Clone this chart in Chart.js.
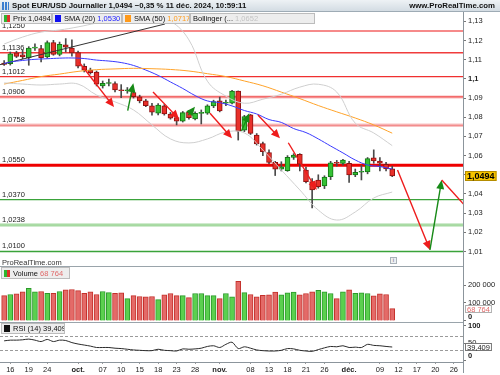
<!DOCTYPE html>
<html lang="fr">
<head>
<meta charset="UTF-8"/>
<meta name="viewport" content="width=device-width, initial-scale=1.0"/>
<title>Spot EUR/USD Journalier</title>
<script src="https://cdn.jsdelivr.net/npm/chart.js"></script>
<style>
  body { margin: 0; background: #fff; }
  #wrap { position: relative; width: 500px; height: 375px; overflow: hidden; background: #fff;
          font-family: "Liberation Sans", Arial, sans-serif; font-size: 7.5px; color: #111; }
  #wrap canvas { position: absolute; left: 0; }
  .head { position: absolute; left: 0; top: 0; width: 500px; height: 12px; box-sizing: border-box;
          background: linear-gradient(#eef2f5, #d3dce3); border-bottom: 1px solid #9eabb5; font-size: 7.8px; }
  .head b { position: absolute; top: 0; line-height: 12px; white-space: nowrap; }
  .ico { position: absolute; left: 2px; top: 2px; width: 7px; height: 8px;
         background: repeating-linear-gradient(90deg, #3b7fd0 0 2px, transparent 2px 3px); }
  .leg { position: absolute; height: 11px; line-height: 10px; box-sizing: border-box; padding-left: 2px;
         background: rgba(236,236,236,0.93); border: 1px solid #bcbcbc; white-space: nowrap; overflow: hidden; }
  .sq { display: inline-block; width: 6px; height: 7px; margin-right: 3px; vertical-align: -1px; }
  .sep { position: absolute; left: 0; width: 463px; height: 1px; background: #9aa4ab; }
  .vline { position: absolute; left: 463px; top: 362px; width: 1px; height: 11px; background: #8c959c; }
  .info { position: absolute; left: 390px; top: 257px; width: 7px; height: 7px; box-sizing: border-box;
          border: 1px solid #a9b2b9; background: #eef0f2; font-size: 6px; line-height: 5px; text-align: center; color: #667; }
</style>
</head>
<body>
<div id="wrap">
  <canvas id="priceChart" width="500" height="254" style="top:12px"></canvas>
  <canvas id="volChart" width="500" height="56" style="top:266px"></canvas>
  <canvas id="rsiChart" width="500" height="53" style="top:322px"></canvas>

  <div class="head">
    <i class="ico"></i>
    <b style="left:12px">Spot EUR/USD Journalier <span id="lastPx"></span> &minus;0,35 % 11 déc. 2024, 10:59:11</b>
    <b style="right:5px">www.ProRealTime.com</b>
  </div>

  <div class="leg" style="left:1px;top:13px;width:51px"><i class="sq" style="background:linear-gradient(90deg,#2fb52f 50%,#e0302a 50%)"></i>Prix <span id="legPx"></span></div>
  <div class="leg" style="left:52px;top:13px;width:70px"><i class="sq" style="background:#1010f0"></i>SMA (20) <span id="legS20" style="color:#2323ff"></span></div>
  <div class="leg" style="left:122px;top:13px;width:68px"><i class="sq" style="background:#ff9a1a"></i>SMA (50) <span id="legS50" style="color:#ff9a1a"></span></div>
  <div class="leg" style="left:190px;top:13px;width:125px">Bollinger (... <span id="legBB" style="color:#c4c4c4"></span></div>

  <div style="position:absolute;left:2px;top:258px;color:#333">ProRealTime.com</div>
  <div class="info">i</div>

  <div class="sep" style="top:266px"></div>
  <div class="leg" style="left:1px;top:267px;width:69px;height:12px;line-height:11px"><i class="sq" style="background:linear-gradient(90deg,#2fb52f 50%,#e0302a 50%)"></i>Volume <span id="legVol" style="color:#e06a6a"></span></div>

  <div class="sep" style="top:322px"></div>
  <div class="leg" style="left:1px;top:323px;width:64px;height:11px"><i class="sq" style="background:#111"></i>RSI (14) <span id="legRsi"></span></div>
  <div class="vline"></div>
</div>

<script>
  // Daily candles, index 0 = Mon 16 Sept 2024, trading days only (first candle is Fri 13 Sept)
  const firstDay = -1;
  const opens = [
    1.1083, 1.1079, 1.1136, 1.1126, 1.1109, 1.1160, 1.1158, 1.1114, 1.1189, 1.1128,
    1.1178, 1.1161, 1.1137, 1.1066, 1.1046, 1.1036, 1.0963, 1.0976, 1.0976, 1.0942,
    1.0938, 1.0929, 1.0907, 1.0885, 1.0860, 1.0821, 1.0859, 1.0817, 1.0798, 1.0780,
    1.0827, 1.0791, 1.0820, 1.0821, 1.0859, 1.0885, 1.0873, 1.0873, 1.0937, 1.0733,
    1.0812, 1.0707, 1.0663, 1.0616, 1.0565, 1.0529, 1.0521, 1.0591, 1.0607, 1.0525,
    1.0464, 1.0473, 1.0442, 1.0490, 1.0562, 1.0559, 1.0560, 1.0499, 1.0513, 1.0515,
    1.0589, 1.0572, 1.0555, 1.0531
  ];
  const highs = [
    1.1095, 1.1140, 1.1144, 1.1149, 1.1168, 1.1183, 1.1175, 1.1198, 1.1201, 1.1192,
    1.1210, 1.1204, 1.1145, 1.1078, 1.1056, 1.1041, 1.0989, 1.0999, 1.0984, 1.0970,
    1.0955, 1.0940, 1.0915, 1.0893, 1.0872, 1.0871, 1.0866, 1.0825, 1.0805, 1.0830,
    1.0835, 1.0828, 1.0838, 1.0865, 1.0889, 1.0905, 1.0890, 1.0940, 1.0937, 1.0810,
    1.0815, 1.0715, 1.0670, 1.0630, 1.0570, 1.0568, 1.0600, 1.0610, 1.0610, 1.0540,
    1.0480, 1.0500, 1.0495, 1.0570, 1.0575, 1.0580, 1.0570, 1.0530, 1.0550, 1.0590,
    1.0630, 1.0590, 1.0565, 1.0545
  ];
  const lows = [
    1.1070, 1.1072, 1.1111, 1.1105, 1.1071, 1.1149, 1.1088, 1.1108, 1.1123, 1.1120,
    1.1140, 1.1118, 1.1057, 1.1036, 1.1025, 1.0963, 1.0952, 1.0963, 1.0932, 1.0902,
    1.0925, 1.0900, 1.0875, 1.0855, 1.0811, 1.0812, 1.0811, 1.0790, 1.0760, 1.0775,
    1.0790, 1.0786, 1.0765, 1.0815, 1.0850, 1.0828, 1.0860, 1.0870, 1.0681, 1.0725,
    1.0710, 1.0655, 1.0600, 1.0558, 1.0496, 1.0520, 1.0518, 1.0580, 1.0520, 1.0458,
    1.0327, 1.0430, 1.0428, 1.0475, 1.0545, 1.0550, 1.0460, 1.0490, 1.0473, 1.0505,
    1.0560, 1.0520, 1.0520, 1.0490
  ];
  const closes = [
    1.1076, 1.1130, 1.1117, 1.1114, 1.1161, 1.1165, 1.1111, 1.1189, 1.1128, 1.1180,
    1.1165, 1.1135, 1.1066, 1.1045, 1.1032, 1.0973, 1.0977, 1.0978, 1.0942, 1.0938,
    1.0940, 1.0907, 1.0885, 1.0860, 1.0826, 1.0864, 1.0817, 1.0795, 1.0780, 1.0824,
    1.0798, 1.0821, 1.0822, 1.0859, 1.0881, 1.0833, 1.0877, 1.0937, 1.0728, 1.0803,
    1.0716, 1.0661, 1.0620, 1.0564, 1.0529, 1.0542, 1.0591, 1.0603, 1.0555, 1.0464,
    1.0421, 1.0438, 1.0488, 1.0562, 1.0560, 1.0576, 1.0499, 1.0513, 1.0516, 1.0584,
    1.0572, 1.0560, 1.0531, 1.0494
  ];
  const volumes = [
    141000, 147000, 151000, 162000, 181000, 162000, 164000, 154000, 154000, 164000,
    173000, 175000, 169000, 154000, 162000, 147000, 164000, 158000, 154000, 156000,
    124000, 141000, 136000, 134000, 136000, 119000, 145000, 153000, 141000, 141000,
    130000, 153000, 153000, 141000, 141000, 124000, 153000, 134000, 220000, 158000,
    147000, 134000, 143000, 145000, 160000, 145000, 156000, 160000, 145000, 153000,
    162000, 171000, 162000, 153000, 124000, 162000, 173000, 154000, 156000, 153000,
    140000, 151000, 147000, 68764
  ];
  const rsi = [
    57, 59, 59, 60, 62, 59, 55, 61, 55, 59,
    58, 52, 48, 45, 42, 38, 38, 38, 36, 35,
    33, 31, 30, 29, 29, 33, 30, 29, 28, 34,
    33, 34, 36, 41, 43, 38, 47, 53, 35, 40,
    36, 31, 29, 28, 28, 30, 35, 34, 30, 28,
    27, 32, 37, 41, 40, 43, 38, 39, 38, 47,
    44, 43, 41, 39.409
  ];

  // Indicators
  const sma20Days = [-1, 0, 2, 4, 6, 8, 10, 12, 14, 16, 18, 20, 22, 24, 26, 28, 30, 32, 34, 36, 38, 40, 42, 44, 46, 48, 50, 52, 54, 56, 58, 60, 62];
  const sma20 = [1.1080, 1.1088, 1.1096, 1.1102, 1.1105, 1.1108, 1.1109, 1.1106, 1.1098, 1.1093, 1.1085, 1.1070, 1.1046,
                 1.1018, 1.0984, 1.0950, 1.0913, 1.0885, 1.0876, 1.0859, 1.0835, 1.0817, 1.0788, 1.0773, 1.0741, 1.0720,
                 1.0687, 1.0650, 1.0614, 1.0577, 1.0551, 1.0543, 1.0530];
  const bandDays = [-1, 2, 5, 8, 11, 14, 17, 20, 23, 26, 29, 32, 35, 38, 41, 44, 47, 50, 53, 56, 59, 62];
  const sma50 = [1.0973, 1.0992, 1.1012, 1.1025, 1.1039, 1.1048, 1.1052, 1.1055, 1.1053, 1.1049, 1.1041,
                 1.1027, 1.1012, 1.0989, 1.0964, 1.0931, 1.0897, 1.0861, 1.0828, 1.0796, 1.0760, 1.0717];
  const bbUpper = [1.1182, 1.1218, 1.1244, 1.1255, 1.1271, 1.1291, 1.1307, 1.1317, 1.1328, 1.1302, 1.1203,
                   1.0988, 1.0910, 1.0873, 1.0894, 1.0920, 1.0957, 1.0972, 1.0931, 1.0769, 1.0718, 1.0652];
  const bbLower = [1.0979, 1.0973, 1.0968, 1.0973, 1.0973, 1.0916, 1.0880, 1.0838, 1.0760, 1.0687, 1.0666,
                   1.0687, 1.0723, 1.0718, 1.0629, 1.0525, 1.0421, 1.0316, 1.0264, 1.0306, 1.0379, 1.0410];

  // Drawn objects
  const levels = [1.1250, 1.1136, 1.1012, 1.0906, 1.0758, 1.0550, 1.0370, 1.0238, 1.0100];
  const trendDays = [-1.67, 25.1];
  const trendValues = [1.1074, 1.1286];
  const arrowFrom = [[11.15, 1.1088], [19.06, 1.0834], [23.17, 1.0932], [28.9, 1.0812], [32.42, 1.0821], [37.53, 1.0728],
                     [40.2, 1.0812], [45.13, 1.0667], [62.86, 1.0525], [68.13, 1.0108], [70.03, 1.0473]];
  const arrowTo = [[16.83, 1.0853], [19.97, 1.0977], [27.39, 1.0791], [29.98, 1.0855], [35.99, 1.0690], [38.8, 1.0821],
                   [43.78, 1.0690], [49.74, 1.0421], [68.13, 1.0108], [70.03, 1.0473], [75.4, 1.0283]];
  const arrowUp = [false, true, false, true, false, true, false, false, false, true, false];

  // Axis ticks
  const tickDays = [0, 3, 6, 11, 15, 18, 21, 24, 27, 30, 34, 39, 42, 45, 48, 51, 55, 60, 63, 66, 69, 72];
  const tickLabels = ['16', '19', '24', 'oct.', '07', '10', '15', '18', '23', '28', 'nov.', '08', '13', '18', '21', '26', 'déc.', '09', '12', '17', '20', '26'];
  const priceTicks = [1.01, 1.02, 1.03, 1.04, 1.05, 1.06, 1.07, 1.08, 1.09, 1.10, 1.11, 1.12, 1.13];
  const volTicks = [0, 100000, 200000];
  const rsiTicks = [0, 50, 100];
  const rsiBands = [30, 70];

  // ---- styles / helpers ----
  const FONT = '"Liberation Sans", Arial, sans-serif';
  Chart.defaults.font.family = FONT;
  Chart.defaults.font.size = 7.5;
  Chart.defaults.animation = false;

  const X_MIN = -1.672, X_MAX = 73.49;
  const dayOf = k => firstDay + k;
  const comma = v => String(v).replace('.', ',');
  const fmt4 = v => v.toFixed(4).replace('.', ',');
  const last = a => a[a.length - 1];
  const volUp = k => k === 0 ? closes[0] >= opens[0] : closes[k] >= closes[k - 1];
  const spaced = v => v.toLocaleString('fr-FR').replace(/\s/g, ' ');

  document.getElementById('lastPx').textContent = fmt4(last(closes));
  document.getElementById('legPx').textContent = fmt4(last(closes));
  document.getElementById('legS20').textContent = fmt4(last(sma20));
  document.getElementById('legS50').textContent = fmt4(last(sma50));
  document.getElementById('legBB').textContent = fmt4(last(bbUpper));
  document.getElementById('legVol').textContent = spaced(last(volumes));
  document.getElementById('legRsi').textContent = comma(last(rsi).toFixed(3));

  const levelStyle = [
    { color: 'rgba(240,70,70,0.85)', width: 1.5 },
    { color: '#f03c3c', width: 1.5 },
    { color: '#f03030', width: 1.2 },
    { color: 'rgba(240,60,60,0.9)', width: 1.2, halo: 'rgba(240,120,120,0.35)' },
    { color: 'rgba(240,110,110,0.8)', width: 1, halo: 'rgba(240,120,120,0.45)' },
    { color: '#ee0000', width: 3 },
    { color: '#3aa33a', width: 1.3 },
    { color: '#8fcf8a', width: 1, halo: 'rgba(150,210,145,0.6)' },
    { color: '#3aa33a', width: 1.3 }
  ];

  function rightAxis(min, max, ticks, label, isBold) {
    return {
      position: 'right', min, max,
      afterBuildTicks: s => { s.ticks = ticks.map(v => ({ value: v })); },
      afterFit: s => { s.width = 37; s.paddingTop = 0; s.paddingBottom = 0; },
      grid: { drawOnChartArea: false, drawTicks: true, tickLength: 3, color: '#777' },
      border: { display: true, color: '#8c959c' },
      ticks: {
        padding: 2, color: '#222', autoSkip: false,
        font: c => ({ size: 7.5, weight: c.tick && isBold(c.tick.value) ? 'bold' : 'normal' }),
        callback: label
      }
    };
  }

  function valueTag(id, value, text, fill, stroke, color, bold) {
    return {
      id,
      afterDraw(chart) {
        const { ctx, scales: { y } } = chart;
        const py = Math.round(y.getPixelForValue(value));
        ctx.save();
        ctx.font = (bold ? 'bold 9px ' : '7.5px ') + FONT;
        const w = ctx.measureText(text).width + 4;
        const h = bold ? 10 : 8;
        ctx.fillStyle = fill;
        ctx.fillRect(y.left + 2, py - h / 2, w, h);
        ctx.strokeStyle = stroke;
        ctx.lineWidth = 1;
        ctx.strokeRect(y.left + 2.5, py - h / 2 + 0.5, w - 1, h - 1);
        ctx.fillStyle = color;
        ctx.textBaseline = 'middle';
        ctx.fillText(text, y.left + 4, py + 0.5);
        ctx.restore();
      }
    };
  }

  const levelPlugin = {
    id: 'levels',
    beforeDatasetsDraw(chart) {
      const { ctx, chartArea: a, scales: { y } } = chart;
      ctx.save();
      levels.forEach((v, k) => {
        const py = y.getPixelForValue(v);
        const st = levelStyle[k];
        if (st.halo) {
          ctx.strokeStyle = st.halo; ctx.lineWidth = 3.5;
          ctx.beginPath(); ctx.moveTo(a.left, py); ctx.lineTo(a.right, py); ctx.stroke();
        }
        ctx.strokeStyle = st.color; ctx.lineWidth = st.width;
        ctx.beginPath(); ctx.moveTo(a.left, py); ctx.lineTo(a.right, py); ctx.stroke();
        ctx.fillStyle = '#222';
        ctx.font = '7.5px ' + FONT;
        ctx.fillText(fmt4(v), a.left + 2, py - 3);
      });
      ctx.restore();
    }
  };

  const arrowPlugin = {
    id: 'arrows',
    afterDatasetsDraw(chart) {
      const { ctx, chartArea: a, scales: { x, y } } = chart;
      ctx.save();
      ctx.beginPath(); ctx.rect(a.left, a.top, a.right - a.left, a.bottom - a.top); ctx.clip();
      arrowFrom.forEach((f, k) => {
        const t = arrowTo[k];
        const x0 = x.getPixelForValue(f[0]), y0 = y.getPixelForValue(f[1]);
        const x1 = x.getPixelForValue(t[0]), y1 = y.getPixelForValue(t[1]);
        const col = arrowUp[k] ? '#178a17' : '#ee1c1c';
        const ang = Math.atan2(y1 - y0, x1 - x0);
        ctx.strokeStyle = col; ctx.fillStyle = col; ctx.lineWidth = 1.4;
        ctx.beginPath(); ctx.moveTo(x0, y0);
        ctx.lineTo(x1 - 5 * Math.cos(ang), y1 - 5 * Math.sin(ang)); ctx.stroke();
        ctx.beginPath();
        ctx.moveTo(x1, y1);
        ctx.lineTo(x1 - 9 * Math.cos(ang) + 4 * Math.sin(ang), y1 - 9 * Math.sin(ang) - 4 * Math.cos(ang));
        ctx.lineTo(x1 - 9 * Math.cos(ang) - 4 * Math.sin(ang), y1 - 9 * Math.sin(ang) + 4 * Math.cos(ang));
        ctx.closePath(); ctx.fill();
      });
      ctx.restore();
    }
  };

  const rsiBandPlugin = {
    id: 'rsiBands',
    beforeDatasetsDraw(chart) {
      const { ctx, chartArea: a, scales: { y } } = chart;
      ctx.save();
      ctx.strokeStyle = '#9a9a9a'; ctx.lineWidth = 1; ctx.setLineDash([3, 2]);
      rsiBands.forEach(v => {
        const py = Math.round(y.getPixelForValue(v)) + 0.5;
        ctx.beginPath(); ctx.moveTo(a.left, py); ctx.lineTo(a.right, py); ctx.stroke();
      });
      ctx.restore();
    }
  };

  const xHidden = { type: 'linear', min: X_MIN, max: X_MAX, offset: false, display: false };
  const noPlugins = { legend: { display: false }, tooltip: { enabled: false } };
  const line = (data, color, width) => ({
    type: 'line', data, borderColor: color, borderWidth: width, pointRadius: 0, tension: 0.4, fill: false, order: 1
  });
  const pts = (days, vals) => days.map((d, k) => ({ x: d, y: vals[k] }));
  const candleUp = k => closes[k] >= opens[k];

  // 1) Price panel
  new Chart(document.getElementById('priceChart'), {
    type: 'bar',
    data: {
      datasets: [
        {
          label: 'wick', order: 4, grouped: false, barThickness: 1,
          data: lows.map((l, k) => ({ x: dayOf(k), y: [l, highs[k]] })),
          backgroundColor: '#4a4a4a'
        },
        {
          label: 'Prix', order: 3, grouped: false, barThickness: 5, minBarLength: 1,
          data: opens.map((o, k) => ({ x: dayOf(k), y: [o, closes[k]] })),
          backgroundColor: c => candleUp(c.dataIndex) ? '#35c135' : '#e8302a',
          borderColor: c => candleUp(c.dataIndex) ? '#157515' : '#8e1111',
          borderWidth: 1, borderSkipped: false
        },
        line(pts(bandDays, bbUpper), '#cfcfcf', 1),
        line(pts(bandDays, bbLower), '#cfcfcf', 1),
        line(pts(bandDays, sma50), '#ffa32a', 1),
        line(pts(sma20Days, sma20), '#3a3aff', 1),
        { ...line(pts(trendDays, trendValues), '#333', 1), tension: 0 }
      ]
    },
    options: {
      responsive: false,
      layout: { padding: 0 },
      plugins: noPlugins,
      scales: {
        x: xHidden,
        y: rightAxis(1.00244, 1.13487, priceTicks, v => comma(+v.toFixed(2)), v => Math.abs(v - 1.1) < 1e-6)
      }
    },
    plugins: [levelPlugin, arrowPlugin,
      valueTag('pxTag', last(closes), fmt4(last(closes)), '#f6c400', '#b48c00', '#000', true)]
  });

  // 2) Volume panel
  new Chart(document.getElementById('volChart'), {
    type: 'bar',
    data: {
      datasets: [{
        label: 'Volume', grouped: false, barThickness: 5,
        data: volumes.map((v, k) => ({ x: dayOf(k), y: v })),
        backgroundColor: c => volUp(c.dataIndex) ? '#5bd04f' : '#e46a68',
        borderColor: c => volUp(c.dataIndex) ? '#2b9a2b' : '#c4302b',
        borderWidth: 1, borderSkipped: 'bottom'
      }]
    },
    options: {
      responsive: false,
      layout: { padding: 0 },
      plugins: noPlugins,
      scales: {
        x: xHidden,
        y: rightAxis(-5556, 305556, volTicks, v => v === 0 ? ['0', ''] : spaced(v), v => v === 0)
      }
    },
    plugins: [valueTag('volTag', last(volumes), spaced(last(volumes)), '#fff', '#b0b0b0', '#e06a6a', false)]
  });

  // 3) RSI panel with the date axis
  new Chart(document.getElementById('rsiChart'), {
    type: 'line',
    data: {
      datasets: [{
        label: 'RSI (14)', data: rsi.map((v, k) => ({ x: dayOf(k), y: v })),
        borderColor: '#2a2a2a', borderWidth: 1, pointRadius: 0, tension: 0.3
      }]
    },
    options: {
      responsive: false,
      layout: { padding: 0 },
      plugins: noPlugins,
      scales: {
        x: {
          type: 'linear', min: X_MIN, max: X_MAX, offset: false,
          afterBuildTicks: s => { s.ticks = tickDays.map(v => ({ value: v })); },
          afterFit: s => { s.height = 13; s.paddingLeft = 0; s.paddingRight = 0; },
          grid: { drawOnChartArea: false, drawTicks: true, tickLength: 2, color: '#999' },
          border: { display: true, color: '#8c959c' },
          ticks: {
            autoSkip: false, maxRotation: 0, padding: 1, color: '#222',
            font: c => ({ size: 7.5, weight: /\./.test(tickLabels[c.index] || '') ? 'bold' : 'normal' }),
            callback: (v, k) => tickLabels[k]
          }
        },
        y: rightAxis(-3.43, 110.86, rsiTicks, v => v === 0 ? ['0', ''] : String(v), v => v !== 50)
      }
    },
    plugins: [rsiBandPlugin,
      valueTag('rsiTag', last(rsi), comma(last(rsi).toFixed(3)), '#fff', '#777', '#222', false)]
  });
</script>
</body>
</html>
